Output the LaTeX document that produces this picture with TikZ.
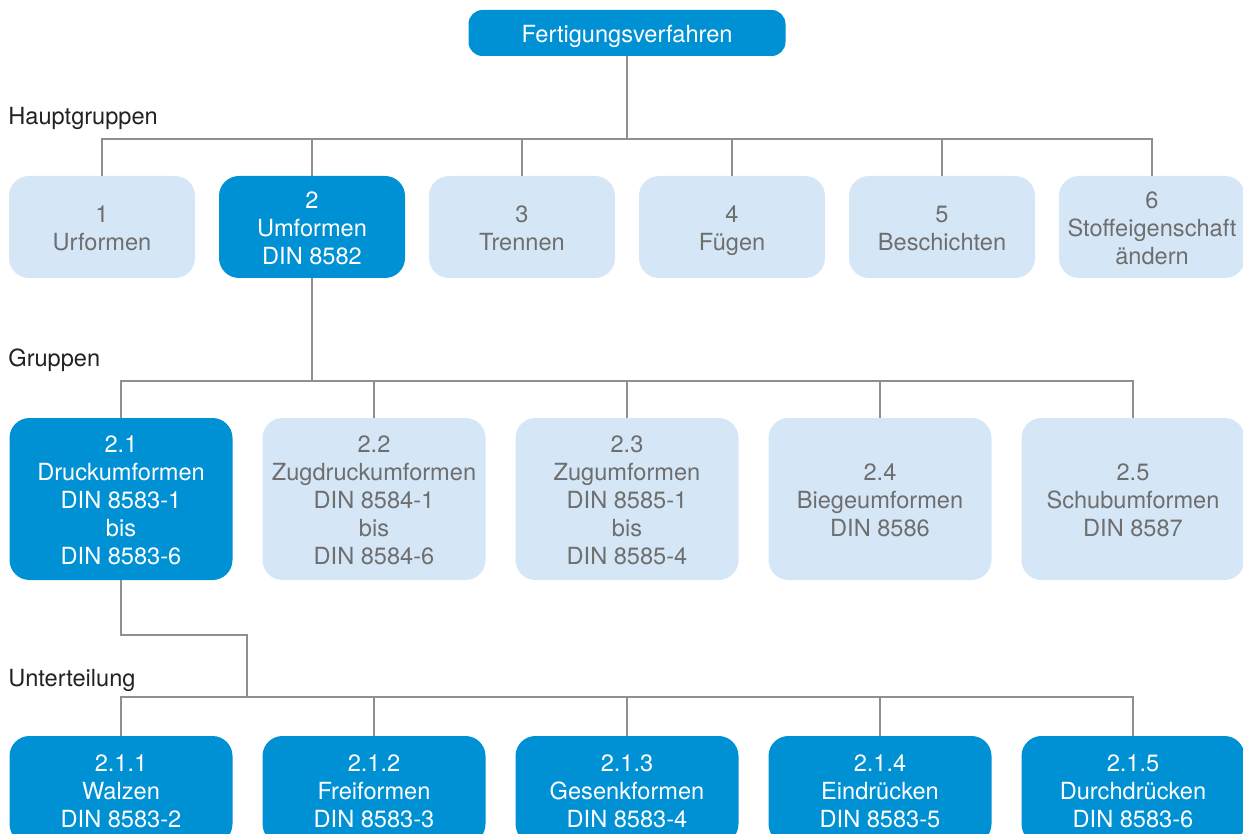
\documentclass[tikz,border=0pt]{standalone}
\usepackage{fontspec}
\setmainfont{TeX Gyre Heros}
\usetikzlibrary{positioning}
\definecolor{fvblue}{HTML}{0091D5}
\definecolor{fvlight}{HTML}{D5E7F6}
\definecolor{fvgray}{HTML}{6E6E6E}
\definecolor{fvline}{HTML}{8F8F8F}
\definecolor{fvtext}{HTML}{222222}
\newcommand{\oben}{\rule{0pt}{11.6pt}}

\begin{document}
\begin{tikzpicture}[x=0.5pt, y=-0.5pt,
    fv box/.style={rectangle, rounded corners=10pt, align=center, inner sep=1pt, outer sep=0pt,
        font=\fontsize{11.8}{14}\selectfont, execute at end node={\vphantom{g}}},
    fv dark/.style={fv box, fill=fvblue, text=white},
    fv light/.style={fv box, fill=fvlight, text=fvgray},
    haupt/.style={minimum width=93pt, minimum height=51pt},
    gruppe/.style={minimum width=111.5pt, minimum height=81pt},
    unter/.style={minimum width=111.5pt, minimum height=54pt},
    level/.style={anchor=base west, text=fvtext, inner sep=0pt, font=\fontsize{11.8}{14}\selectfont},
    conn/.style={draw=fvline, line width=0.75pt}]
    \clip (0,0) rectangle (1243,834);
    \node[fv dark, rounded corners=7pt, minimum width=158.5pt, minimum height=23pt] (FV) at (627,33) {\oben Fertigungsverfahren};

    % Hauptgruppen
    \node[level] (lh) at (8,125) {Hauptgruppen};
    \node[fv light, haupt] (h1) at (102,227) {\oben 1\\Urformen};
    \node[fv dark, haupt] (h2) [right=12pt of h1] {\oben 2\\Umformen\\DIN 8582};
    \node[fv light, haupt] (h3) [right=12pt of h2] {\oben 3\\Trennen};
    \node[fv light, haupt] (h4) [right=12pt of h3] {\oben 4\\Fügen};
    \node[fv light, haupt] (h5) [right=12pt of h4] {\oben 5\\Beschichten};
    \node[fv light, haupt] (h6) [right=12pt of h5] {\oben 6\\Stoffeigenschaft\\ändern};

    % Gruppen
    \node[level] (lg) at (8,367) {Gruppen};
    \node[fv dark, gruppe] (g1) at (121,499) {\oben 2.1\\Druckumformen\\DIN 8583-1\\bis\\DIN 8583-6};
    \node[fv light, gruppe] (g2) [right=15pt of g1] {\oben 2.2\\Zugdruckumformen\\DIN 8584-1\\bis\\DIN 8584-6};
    \node[fv light, gruppe] (g3) [right=15pt of g2] {\oben 2.3\\Zugumformen\\DIN 8585-1\\bis\\DIN 8585-4};
    \node[fv light, gruppe] (g4) [right=15pt of g3] {\oben 2.4\\Biegeumformen\\DIN 8586};
    \node[fv light, gruppe] (g5) [right=15pt of g4] {\oben 2.5\\Schubumformen\\DIN 8587};

    % Unterteilung
    \node[level] (lu) at (8,686) {Unterteilung};
    \node[fv dark, unter] (u1) at (121,790) {\oben 2.1.1\\Walzen\\DIN 8583-2};
    \node[fv dark, unter] (u2) [right=15pt of u1] {\oben 2.1.2\\Freiformen\\DIN 8583-3};
    \node[fv dark, unter] (u3) [right=15pt of u2] {\oben 2.1.3\\Gesenkformen\\DIN 8583-4};
    \node[fv dark, unter] (u4) [right=15pt of u3] {\oben 2.1.4\\Eindrücken\\DIN 8583-5};
    \node[fv dark, unter] (u5) [right=15pt of u4] {\oben 2.1.5\\Durchdrücken\\DIN 8583-6};

    % Verbindungen
    \coordinate (bh) at (627,139);
    \coordinate (bg) at (312,381);
    \coordinate (knick) at (247,635);
    \coordinate (bu) at (247,697);
    \draw[conn] (FV.south) -- (bh);
    \draw[conn] (h1.north) -- (h1.north |- bh) -| (h6.north);
    \foreach \i in {2,...,5}
        \draw[conn] (h\i.north) -- (h\i.north |- bh);
    \draw[conn] (h2.south) -- (bg);
    \draw[conn] (g1.north) -- (g1.north |- bg) -| (g5.north);
    \foreach \i in {2,...,4}
        \draw[conn] (g\i.north) -- (g\i.north |- bg);
    \draw[conn] (g1.south) |- (knick) -- (bu);
    \draw[conn] (u1.north) -- (u1.north |- bu) -| (u5.north);
    \foreach \i in {2,...,4}
        \draw[conn] (u\i.north) -- (u\i.north |- bu);
\end{tikzpicture}
\end{document}
